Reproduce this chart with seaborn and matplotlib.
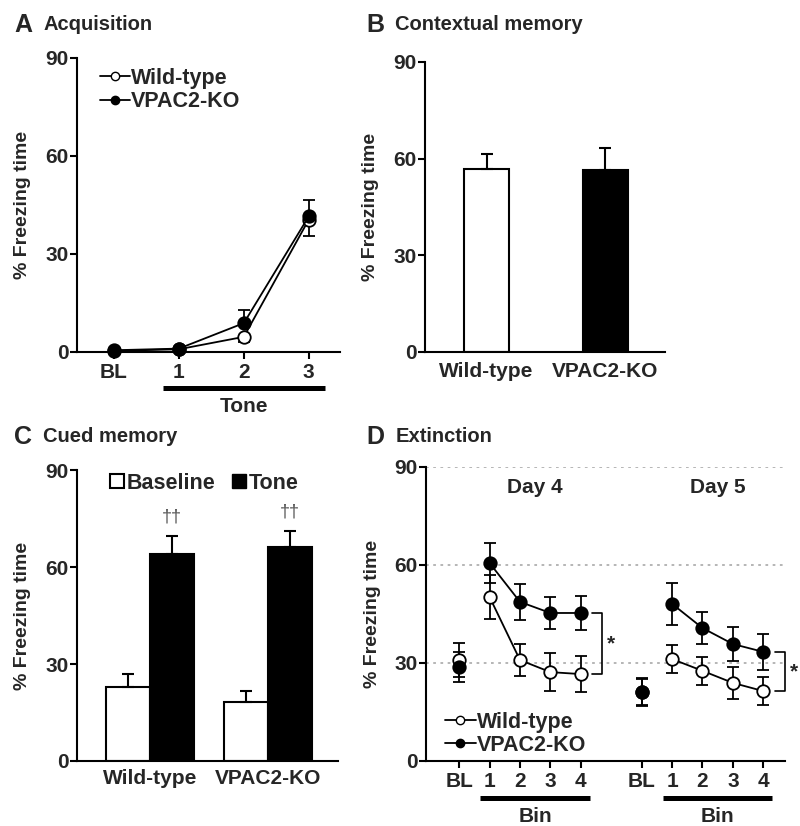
import numpy as np
import pandas as pd
import matplotlib.pyplot as plt
import seaborn as sns
from matplotlib.lines import Line2D
from matplotlib.patches import Patch

sns.set_theme(style="ticks")
plt.rcParams['font.family'] = ['Liberation Sans', 'DejaVu Sans']
plt.rcParams['font.weight'] = 'bold'
plt.rcParams['axes.labelweight'] = 'bold'

# ---- data ----
# A: acquisition
acq_labels = ["BL", "1", "2", "3"]
acq_wt = [0.3, 0.8, 4.6, 40.5]
acq_wt_sem = [0.3, 0.4, 1.5, 5.0]
acq_ko = [0.5, 1.0, 8.8, 41.5]
acq_ko_sem = [0.5, 0.5, 4.0, 5.0]

# B: contextual memory
ctx_groups = ["Wild-type", "VPAC2-KO"]
ctx_mean = [56.8, 56.5]
ctx_sem = [4.6, 6.8]

# C: cued memory
cue_groups = ["Wild-type", "VPAC2-KO"]
cue_baseline = [22.9, 18.2]
cue_baseline_sem = [4.0, 3.4]
cue_tone = [64.0, 66.2]
cue_tone_sem = [5.6, 4.9]

# D: extinction (BL + 4 bins, day 4 and day 5)
ext_labels = ["BL", "1", "2", "3", "4"]
ext_wt_d4 = [30.9, 50.2, 30.9, 27.2, 26.6]
ext_wt_d4_sem = [5.2, 6.6, 5.0, 5.8, 5.5]
ext_ko_d4 = [28.8, 60.6, 48.7, 45.3, 45.3]
ext_ko_d4_sem = [4.6, 6.1, 5.5, 5.0, 5.2]
ext_wt_d5 = [21.0, 31.2, 27.6, 23.9, 21.4]
ext_wt_d5_sem = [4.0, 4.3, 4.3, 4.9, 4.3]
ext_ko_d5 = [21.1, 48.1, 40.7, 35.8, 33.4]
ext_ko_d5_sem = [4.3, 6.4, 4.9, 5.2, 5.5]

TICK_FS = 15
LAB_FS = 14
TITLE_FS = 14.5
LEG_FS = 15.5
LW = 1.5

fig = plt.figure(figsize=(8, 8.26), dpi=100)


def style_axis(ax):
    sns.despine(ax=ax)
    for s in ["left", "bottom"]:
        ax.spines[s].set_linewidth(LW)
        ax.spines[s].set_color("black")
    ax.set_ylim(0, 90)
    ax.set_yticks([0, 30, 60, 90])
    ax.tick_params(axis="y", length=5, width=LW, labelsize=TICK_FS, pad=1, color="black")
    ax.tick_params(axis="x", length=5, width=LW, labelsize=TICK_FS, pad=3, color="black")
    ax.set_ylabel("% Freezing time", fontsize=LAB_FS, labelpad=10)
    ax.set_xlabel("")
    ax.set_facecolor("white")


def draw_series(ax, x, y, sem, filled, direction="both"):
    if direction == "up":
        yerr = [np.zeros(len(sem)), sem]
    elif direction == "down":
        yerr = [sem, np.zeros(len(sem))]
    else:
        yerr = sem
    ax.errorbar(x, y, yerr=yerr, fmt="none", ecolor="black", elinewidth=1.3,
                capsize=4, capthick=1.3, zorder=2, clip_on=False)
    df = pd.DataFrame({"x": x, "y": y})
    sns.lineplot(data=df, x="x", y="y", ax=ax, color="black", lw=1.3,
                 marker="o", markersize=9, markeredgewidth=1.3,
                 markeredgecolor="black",
                 markerfacecolor="black" if filled else "white",
                 zorder=4 if filled else 3, clip_on=False)


def legend_handles():
    return [
        Line2D([], [], color="black", lw=1.3, marker="o", markersize=6,
               markerfacecolor="white", markeredgecolor="black", label="Wild-type"),
        Line2D([], [], color="black", lw=1.3, marker="o", markersize=6,
               markerfacecolor="black", markeredgecolor="black", label="VPAC2-KO"),
    ]


# ---------------- A ----------------
axA = fig.add_axes([0.096, 0.574, 0.329, 0.356])
xa = np.arange(len(acq_labels))
draw_series(axA, xa, acq_wt, acq_wt_sem, False, "down")
draw_series(axA, xa, acq_ko, acq_ko_sem, True, "up")
style_axis(axA)
axA.set_xlim(-0.57, 3.48)
axA.set_xticks(xa)
axA.set_xticklabels(acq_labels)
axA.plot([xa[1] - 0.25, xa[-1] + 0.25], [-0.122, -0.122], color="black", lw=3.6,
         solid_capstyle="butt", transform=axA.get_xaxis_transform(), clip_on=False)
axA.text(xa[2], -0.185, "Tone", transform=axA.get_xaxis_transform(), ha="center",
         va="center", fontsize=TICK_FS)
axA.legend(handles=legend_handles(), loc="upper left", bbox_to_anchor=(0.055, 0.995),
           frameon=False, handlelength=1.4, handletextpad=0.05,
           labelspacing=0.1, borderaxespad=0, prop={"weight": "bold", "size": LEG_FS})

# ---------------- B ----------------
axB = fig.add_axes([0.531, 0.574, 0.30, 0.351])
sns.barplot(x=ctx_groups, y=ctx_mean, hue=ctx_groups, palette=["white", "black"],
            legend=False, edgecolor="black", linewidth=LW, width=0.38, ax=axB)
axB.errorbar(np.arange(2), ctx_mean, yerr=[np.zeros(2), ctx_sem], fmt="none",
             ecolor="black", elinewidth=1.5, capsize=4, capthick=1.5)
style_axis(axB)
axB.set_xlim(-0.52, 1.5)
axB.tick_params(axis="x", length=0, pad=7)

# ---------------- C ----------------
axC = fig.add_axes([0.096, 0.0787, 0.326, 0.352])
cue_df = pd.DataFrame({
    "group": cue_groups * 2,
    "phase": ["Baseline"] * 2 + ["Tone"] * 2,
    "value": cue_baseline + cue_tone,
})
sns.barplot(data=cue_df, x="group", y="value", hue="phase",
            palette={"Baseline": "white", "Tone": "black"}, edgecolor="black",
            linewidth=LW, width=0.75, legend=False, ax=axC)
xc = np.arange(len(cue_groups))
off = 0.75 / 4
axC.errorbar(xc - off, cue_baseline, yerr=[np.zeros(2), cue_baseline_sem], fmt="none",
             ecolor="black", elinewidth=1.5, capsize=4, capthick=1.5)
axC.errorbar(xc + off, cue_tone, yerr=[np.zeros(2), cue_tone_sem], fmt="none",
             ecolor="black", elinewidth=1.5, capsize=4, capthick=1.5)
for xi, m, s in zip(xc + off, cue_tone, cue_tone_sem):
    axC.text(xi, m + s + 6, "††", ha="center", va="center", fontsize=13,
             color="#555555", fontweight="normal")
style_axis(axC)
axC.set_xlim(-0.62, 1.59)
axC.tick_params(axis="x", length=0, pad=6)
axC.legend(handles=[Patch(facecolor="white", edgecolor="black", lw=1.5, label="Baseline"),
                    Patch(facecolor="black", edgecolor="black", label="Tone")],
           loc="center left", bbox_to_anchor=(0.095, 0.955), ncol=2, frameon=False,
           handlelength=0.65, handleheight=0.65, handletextpad=0.1, columnspacing=0.8,
           borderaxespad=0, prop={"weight": "bold", "size": LEG_FS})

# ---------------- D ----------------
axD = fig.add_axes([0.5325, 0.0787, 0.449, 0.356])
x4 = np.arange(len(ext_labels))
x5 = x4 + len(ext_labels) + 1
for x, wt, wts, ko, kos in [(x4, ext_wt_d4, ext_wt_d4_sem, ext_ko_d4, ext_ko_d4_sem),
                            (x5, ext_wt_d5, ext_wt_d5_sem, ext_ko_d5, ext_ko_d5_sem)]:
    # baseline point stands alone, bins are joined
    draw_series(axD, x[:1], wt[:1], wts[:1], False)
    draw_series(axD, x[1:], wt[1:], wts[1:], False)
    draw_series(axD, x[:1], ko[:1], kos[:1], True)
    draw_series(axD, x[1:], ko[1:], kos[1:], True)
style_axis(axD)
axD.set_xlim(-1.09, 10.72)
axD.set_xticks(np.concatenate([x4, x5]))
axD.set_xticklabels(ext_labels * 2)
axD.yaxis.grid(True, linestyle=(0, (1.5, 2.5)), color="#b0b0b0", lw=1.3)
axD.set_axisbelow(True)
xt = axD.get_xaxis_transform()
for x, day in [(x4, "Day 4"), (x5, "Day 5")]:
    axD.plot([x[1] - 0.3, x[-1] + 0.3], [-0.126, -0.126], color="black", lw=3.6,
             solid_capstyle="butt", transform=xt, clip_on=False)
    axD.text((x[1] + x[-1]) / 2, -0.188, "Bin", transform=xt, ha="center",
             va="center", fontsize=TICK_FS)
    axD.text((x[1] + x[-1]) / 2, 0.93, day, transform=xt, ha="center",
             va="center", fontsize=TICK_FS)
# significance brackets
for x, wt, ko in [(x4, ext_wt_d4, ext_ko_d4), (x5, ext_wt_d5, ext_ko_d5)]:
    xr = x[-1] + 0.7
    xl = x[-1] + 0.38
    axD.plot([xl, xr, xr, xl], [wt[-1], wt[-1], ko[-1], ko[-1]], color="black",
             lw=1.2, clip_on=False)
    axD.text(xr + 0.3, (wt[-1] + ko[-1]) / 2, "*", ha="center", va="center",
             fontsize=15)
axD.legend(handles=legend_handles(), loc="lower left", bbox_to_anchor=(0.03, -0.012),
           frameon=False, handlelength=1.4, handletextpad=0.05, labelspacing=0.1,
           borderaxespad=0, prop={"weight": "bold", "size": LEG_FS})

# ---------------- panel letters and titles ----------------
for (lx, ly, letter, title) in [(0.018, 0.970, "A", "Acquisition"),
                                (0.458, 0.970, "B", "Contextual memory"),
                                (0.018, 0.471, "C", "Cued memory"),
                                (0.458, 0.471, "D", "Extinction")]:
    fig.text(lx, ly, letter, fontsize=18, fontweight="bold", va="center")
    fig.text(lx + 0.036, ly, title, fontsize=TITLE_FS, fontweight="bold", va="center")

fig.savefig("out.png", dpi=100, facecolor="white")
